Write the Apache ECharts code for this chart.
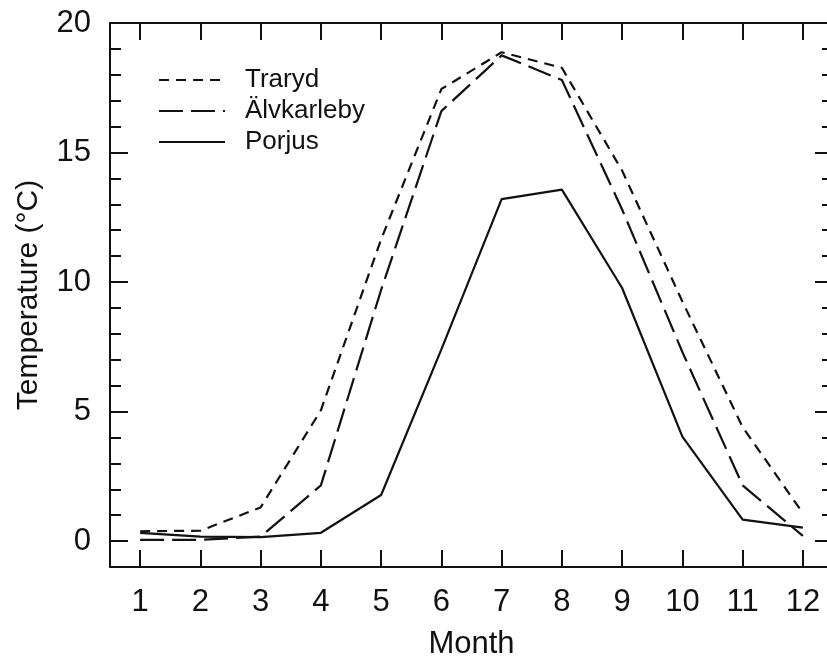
<!DOCTYPE html>
<html>
<head>
<meta charset="utf-8">
<script src="https://cdn.jsdelivr.net/npm/echarts@6/dist/echarts.min.js"></script>
<style>html,body{margin:0;padding:0;background:#fff}#c{width:827px;height:656px}</style>
</head>
<body>
<div id="c"></div>
<script>
const months = [1,2,3,4,5,6,7,8,9,10,11,12];
const traryd = [0.38,0.4,1.3,5.05,11.65,17.45,18.87,18.27,14.3,9.25,4.4,1.08];
const alvkarleby = [0.05,0.05,0.17,2.15,9.7,16.6,18.75,17.8,12.8,7.3,2.15,0.2];
const porjus = [0.32,0.17,0.15,0.32,1.78,7.4,13.2,13.57,9.77,4.03,0.83,0.52];
const yMajorTicks = [0,5,10,15,20];
const yMinorTicks = [1,2,3,4,6,7,8,9,11,12,13,14,16,17,18,19];
const seriesNames = ['Traryd','Älvkarleby','Porjus'];

const FONT = 'Liberation Sans, Arial, Helvetica, sans-serif';
const INK = '#111';
const pairs = arr => arr.map((v,i)=>[months[i], v]);

const yBase = {type:'value', min:-1, max:20, splitLine:{show:false}, axisLabel:{show:false}, axisLine:{show:false, onZero:false}};
const chart = echarts.init(document.getElementById('c'));
chart.setOption({
  animation:false,
  backgroundColor:'#fff',
  grid:{left:110, top:23, width:723, height:544, containLabel:false, outerBoundsMode:'none'},
  legend:{
    left:158, top:67, padding:0, orient:'vertical', itemWidth:66, itemHeight:14, itemGap:5,
    itemStyle:{opacity:0},
    textStyle:{fontFamily:FONT, fontSize:26, color:INK, padding:[0,0,0,15]},
    data:seriesNames
  },
  xAxis:[
    {type:'value', min:0.5, max:12.5, position:'bottom',
     name:'Month', nameLocation:'middle', nameGap:62,
     nameTextStyle:{fontFamily:FONT, fontSize:31, color:INK},
     axisLine:{show:true, onZero:false, lineStyle:{color:INK, width:2}},
     axisTick:{show:true, inside:true, length:17, customValues:months, lineStyle:{color:INK, width:2}},
     axisLabel:{show:true, customValues:months, fontFamily:FONT, fontSize:31, color:INK, margin:20},
     splitLine:{show:false}},
    {type:'value', min:0.5, max:12.5, position:'top',
     axisLine:{show:true, onZero:false, lineStyle:{color:INK, width:2}},
     axisTick:{show:true, inside:true, length:17, customValues:months, lineStyle:{color:INK, width:2}},
     axisLabel:{show:false}, splitLine:{show:false}}
  ],
  yAxis:[
    Object.assign({}, yBase, {position:'left',
     name:'Temperature (°C)', nameLocation:'middle', nameGap:66,
     nameTextStyle:{fontFamily:FONT, fontSize:30, color:INK},
     axisLine:{show:true, onZero:false, lineStyle:{color:INK, width:2}},
     axisTick:{show:true, inside:true, length:18, customValues:yMajorTicks, lineStyle:{color:INK, width:2}},
     axisLabel:{show:true, customValues:yMajorTicks, fontFamily:FONT, fontSize:31, color:INK, margin:19}}),
    Object.assign({}, yBase, {position:'left',
     axisTick:{show:true, inside:true, length:11, customValues:yMinorTicks, lineStyle:{color:INK, width:2}}}),
    Object.assign({}, yBase, {position:'right',
     axisLine:{show:true, onZero:false, lineStyle:{color:INK, width:2}},
     axisTick:{show:true, inside:true, length:18, customValues:yMajorTicks, lineStyle:{color:INK, width:2}}}),
    Object.assign({}, yBase, {position:'right',
     axisTick:{show:true, inside:true, length:11, customValues:yMinorTicks, lineStyle:{color:INK, width:2}}})
  ],
  series:[
    {name:seriesNames[0], type:'line', data:pairs(traryd), symbol:'none',
     lineStyle:{color:INK, width:2.2, type:[10,7]}, itemStyle:{color:INK}},
    {name:seriesNames[1], type:'line', data:pairs(alvkarleby), symbol:'none',
     lineStyle:{color:INK, width:2.2, type:[24,8]}, itemStyle:{color:INK}},
    {name:seriesNames[2], type:'line', data:pairs(porjus), symbol:'none',
     lineStyle:{color:INK, width:2.2, type:'solid'}, itemStyle:{color:INK}}
  ]
});
</script>
</body>
</html>
